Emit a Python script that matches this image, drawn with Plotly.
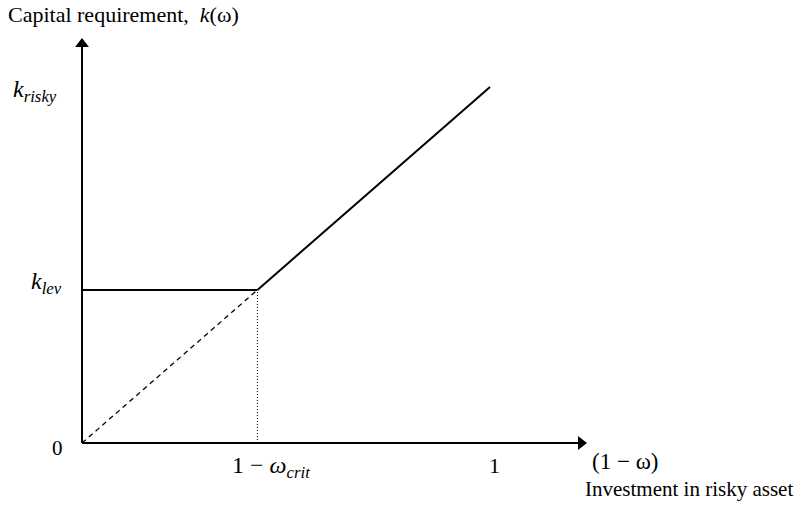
import plotly.graph_objects as go

# Data (model units): x = share invested in risky asset (1 - omega), y = capital requirement k
x_crit = 0.43          # 1 - omega_crit
k_lev = 0.43
k_risky = 1.0
x_max = 1.0

flat_x = [0, x_crit]
flat_y = [k_lev, k_lev]
rise_x = [x_crit, x_max]
rise_y = [k_lev, k_risky]
dash_x = [0, x_crit]
dash_y = [0, k_lev]
dot_x = [x_crit, x_crit]
dot_y = [0, k_lev]

axis_x_end = 1.223
axis_y_end = 1.121

serif = "Liberation Serif, Times New Roman, serif"
black = "#000000"

fig = go.Figure()
# axes
fig.add_trace(go.Scatter(x=[0, axis_x_end], y=[0, 0], mode="lines",
                         line=dict(color=black, width=2), hoverinfo="skip"))
fig.add_trace(go.Scatter(x=[0, 0], y=[0, axis_y_end], mode="lines",
                         line=dict(color=black, width=2), hoverinfo="skip"))
fig.add_trace(go.Scatter(x=[axis_x_end], y=[0], mode="markers",
                         marker=dict(symbol="triangle-right", size=12, color=black),
                         hoverinfo="skip"))
fig.add_trace(go.Scatter(x=[0], y=[axis_y_end], mode="markers",
                         marker=dict(symbol="triangle-up", size=12, color=black),
                         hoverinfo="skip"))
# curves
fig.add_trace(go.Scatter(x=flat_x, y=flat_y, mode="lines",
                         line=dict(color=black, width=2), hoverinfo="skip"))
fig.add_trace(go.Scatter(x=rise_x, y=rise_y, mode="lines",
                         line=dict(color=black, width=2), hoverinfo="skip"))
fig.add_trace(go.Scatter(x=dash_x, y=dash_y, mode="lines",
                         line=dict(color=black, width=1.3, dash="5px,4px"), hoverinfo="skip"))
fig.add_trace(go.Scatter(x=dot_x, y=dot_y, mode="lines",
                         line=dict(color=black, width=1, dash="1px,2px"), hoverinfo="skip"))

ann = []

def label(text, x, y, xanchor="center", size=21):
    ann.append(dict(x=x, y=y, xref="x", yref="y", text=text, showarrow=False,
                    xanchor=xanchor, yanchor="middle",
                    font=dict(family=serif, size=size, color=black)))

label("Capital requirement,  <i>k</i>(ω)", -0.186, 1.205, xanchor="left", size=22)
label("<i>k</i><sub><i>risky</i></sub>", -0.115, 0.99, size=24)
label("<i>k</i><sub><i>lev</i></sub>", -0.086, 0.449, size=24)
label("0", -0.059, -0.014, size=21)
label("1 − <i>ω</i><sub><i>crit</i></sub>", 0.463, -0.067, size=24)
label("1", 1.012, -0.062, size=22)
label("(1 − ω)", 1.245, -0.053, xanchor="left", size=23)
label("Investment in risky asset", 1.228, -0.129, xanchor="left", size=21)

fig.update_layout(
    width=804, height=508,
    margin=dict(l=0, r=0, t=0, b=0),
    paper_bgcolor="white", plot_bgcolor="white",
    showlegend=False,
    hovermode=False,
    annotations=ann,
    xaxis=dict(range=[-0.201, 1.7696], visible=False, fixedrange=True),
    yaxis=dict(range=[-0.1826, 1.2444], visible=False, fixedrange=True),
)

# remove the browser's default 8px body margin so the figure fills the window
fig.write_html("out.html",
               config={"displayModeBar": False, "staticPlot": True},
               post_script="document.body.style.margin='0';document.body.style.overflow='hidden';")
